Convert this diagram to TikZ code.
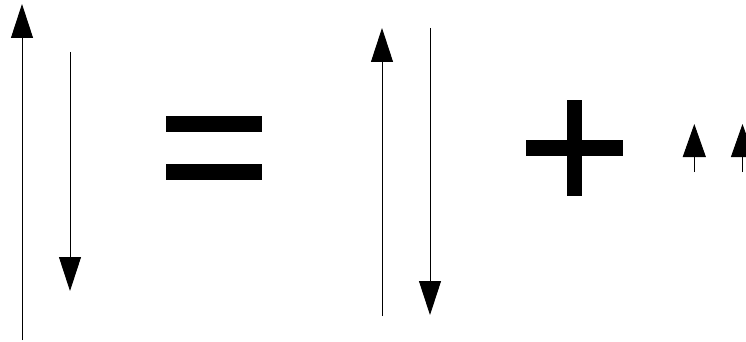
\documentclass[tikz,border=0pt]{standalone}
\usetikzlibrary{arrows.meta}
\begin{document}
\begin{tikzpicture}[x=1pt,y=-1pt,
  spin/.style={line width=0.9pt,-{Triangle[length=34pt,width=22pt]}},
  small/.style={line width=0.9pt,-{Triangle[length=33pt,width=23pt]}},
  bar/.style={fill=black,draw=none}]
\useasboundingbox (0,0) rectangle (746,342);
\clip (0,0) rectangle (746,342);
% left side
\coordinate (a1s) at (22,340); \coordinate (a1e) at (22,4);
\coordinate (a2s) at (70,52);  \coordinate (a2e) at (70,291);
\draw[spin] (a1s) -- (a1e);
\draw[spin] (a2s) -- (a2e);
% equals
\fill[bar] (166,116) rectangle (262,132);
\fill[bar] (166,164) rectangle (262,180);
% right pair
\coordinate (a3s) at (382,316); \coordinate (a3e) at (382,28);
\coordinate (a4s) at (430,28);  \coordinate (a4e) at (430,315);
\draw[spin] (a3s) -- (a3e);
\draw[spin] (a4s) -- (a4e);
% plus
\fill[bar] (526,140) rectangle (623,156);
\fill[bar] (567,100) rectangle (582,196);
% small arrows
\coordinate (s1s) at (694.3,172); \coordinate (s1e) at (694.3,124);
\coordinate (s2s) at (742.5,172); \coordinate (s2e) at (742.5,124);
\draw[small] (s1s) -- (s1e);
\draw[small] (s2s) -- (s2e);
\end{tikzpicture}
\end{document}
